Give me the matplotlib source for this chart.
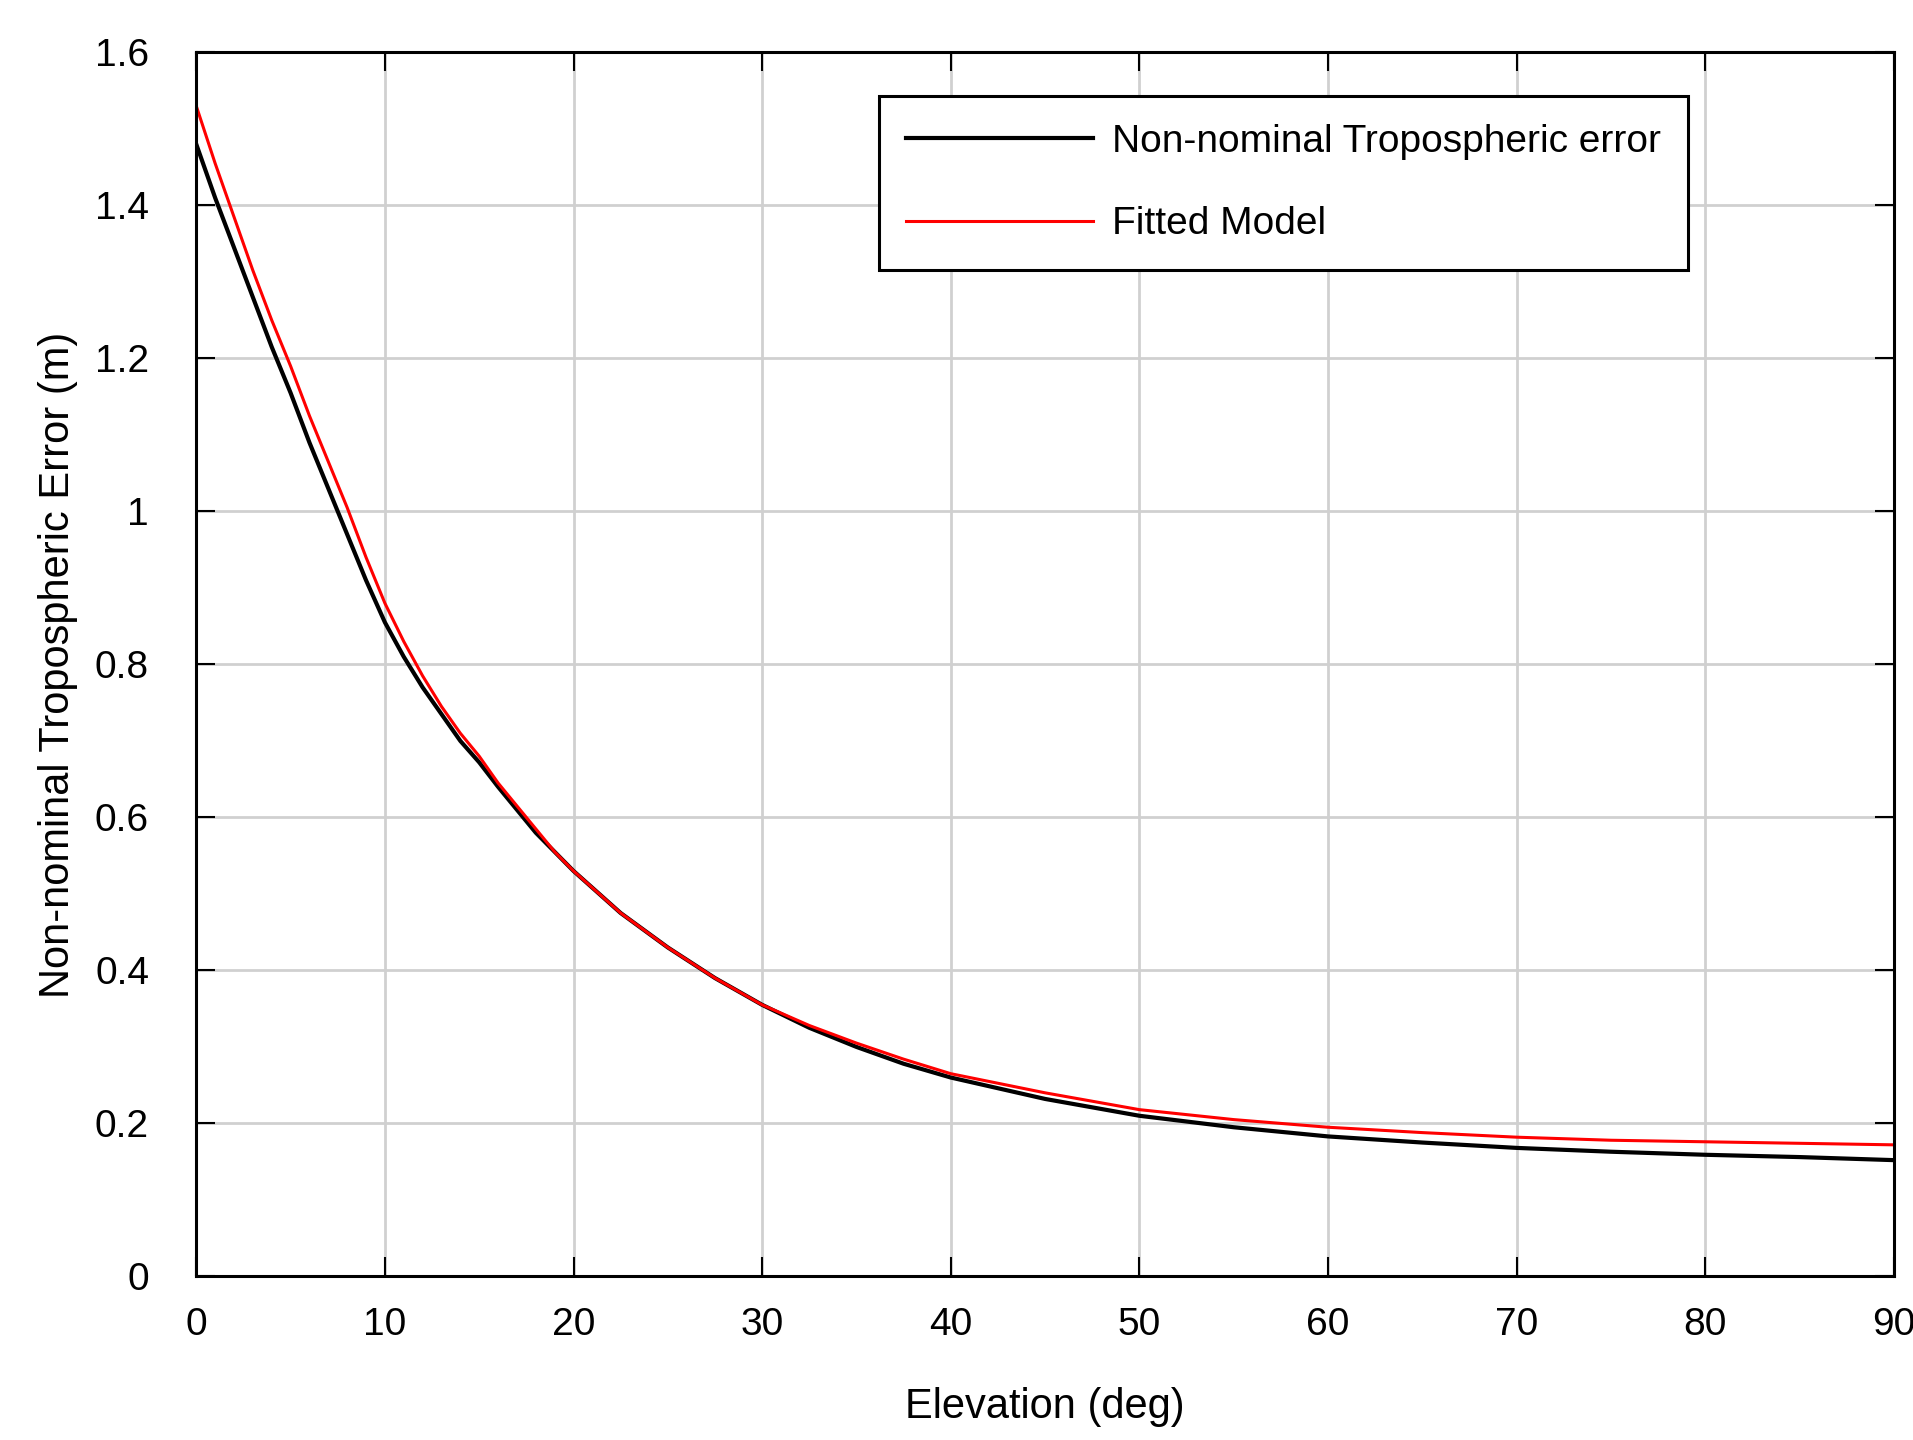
import matplotlib
matplotlib.use("Agg")
import matplotlib.pyplot as plt

plt.rcParams['font.family'] = ['Liberation Sans', 'DejaVu Sans']

elev = [0, 1, 2, 3, 4, 5, 6, 7, 8, 9, 10, 11, 12, 13, 14, 15, 16, 17, 18, 19, 20,
        22.5, 25, 27.5, 30, 32.5, 35, 37.5, 40, 45, 50, 55, 60, 65, 70, 75, 80, 85, 90]
err_true = [1.48, 1.41, 1.345, 1.28, 1.215, 1.155, 1.09, 1.03, 0.97, 0.91, 0.855,
            0.81, 0.77, 0.735, 0.70, 0.672, 0.64, 0.61, 0.58, 0.555, 0.53,
            0.475, 0.43, 0.39, 0.355, 0.325, 0.30, 0.278, 0.26,
            0.232, 0.21, 0.195, 0.183, 0.175, 0.168, 0.163, 0.159, 0.156, 0.152]
err_fit = [1.53, 1.455, 1.385, 1.315, 1.25, 1.19, 1.125, 1.065, 1.005, 0.94, 0.88,
           0.83, 0.785, 0.745, 0.71, 0.68, 0.645, 0.615, 0.585, 0.555, 0.53,
           0.475, 0.43, 0.39, 0.355, 0.328, 0.305, 0.284, 0.265,
           0.24, 0.218, 0.205, 0.195, 0.188, 0.182, 0.178, 0.176, 0.174, 0.172]

fig = plt.figure(figsize=(19.13, 14.40), dpi=100)
ax = fig.add_axes([0.1026, 0.1136, 0.8874, 0.85])

ax.plot(elev, err_true, color='black', lw=3, label='Non-nominal Tropospheric error')
ax.plot(elev, err_fit, color='red', lw=2.2, label='Fitted Model')

ax.set_xlim(0, 90)
ax.set_ylim(0, 1.6)
ax.set_xticks(range(0, 91, 10))
ax.set_yticks([0, 0.2, 0.4, 0.6, 0.8, 1.0, 1.2, 1.4, 1.6])
ax.set_yticklabels(['0', '0.2', '0.4', '0.6', '0.8', '1', '1.2', '1.4', '1.6'])
ax.grid(True, color='#d0d0d0', lw=2)
ax.tick_params(direction='in', top=True, right=True, length=14, width=1.5, labelsize=28)
ax.tick_params(axis='y', pad=34)
ax.tick_params(axis='x', pad=22)
for s in ax.spines.values():
    s.set_linewidth(2.2)

ax.set_xlabel('Elevation (deg)', fontsize=30, labelpad=32)
ax.set_ylabel('Non-nominal Tropospheric Error (m)', fontsize=30, labelpad=12)

leg = ax.legend(loc='upper left', bbox_to_anchor=(0.402, 0.964), fontsize=28, fancybox=False,
                edgecolor='black', framealpha=1, handlelength=4.8, borderpad=0.7,
                labelspacing=1.2, handletextpad=0.5, borderaxespad=0)
leg.get_frame().set_linewidth(2.2)
leg.set_zorder(5)
fig.canvas.draw()
# widen the frame to the reference's width
bb = leg.get_frame().get_bbox()
leg.get_frame().set_width(ax.bbox.width * 0.571)

fig.savefig('out.png', dpi=100)
